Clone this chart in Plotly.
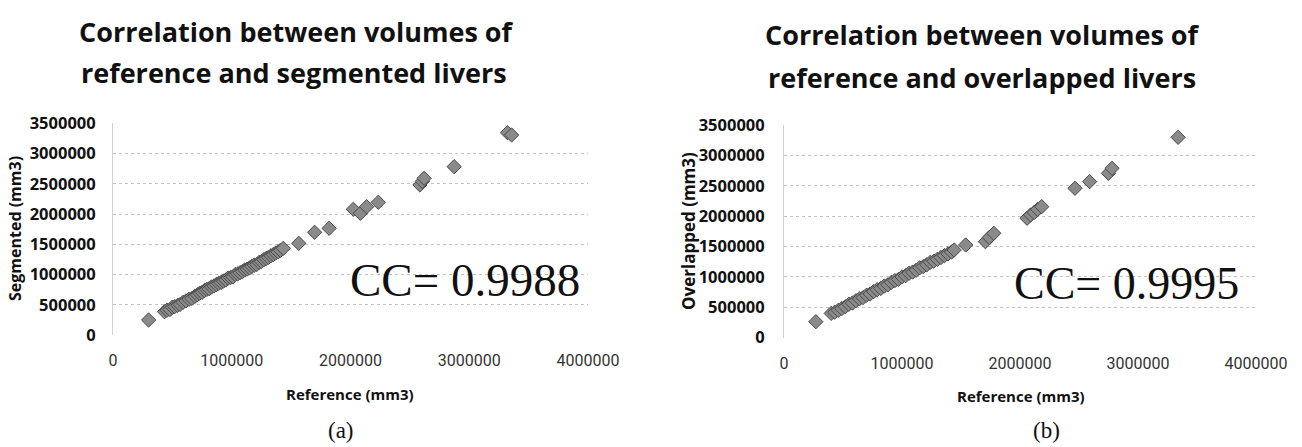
import plotly.graph_objects as go

# ---------------- data (mm3) ----------------
seg_ref = [300000, 434000, 455000, 480000, 500000, 520000, 545000, 565000, 590000, 615000,
           640000, 665000, 690000, 710000, 730000, 750000, 770000, 790000, 810000, 830000,
           850000, 870000, 890000, 910000, 930000, 950000, 970000, 990000, 1010000, 1030000,
           1050000, 1070000, 1090000, 1110000, 1130000, 1150000, 1170000, 1190000, 1210000, 1230000,
           1250000, 1270000, 1290000, 1310000, 1330000, 1350000, 1370000, 1390000, 1410000, 1434000,
           1564000, 1698000, 1820000, 2024000, 2083000, 2136000, 2234000, 2585000, 2605000, 2620000,
           2873000, 3322000, 3357000]
seg_vol = [248000, 385000, 410000, 420000, 460000, 470000, 490000, 505000, 540000, 565000,
           590000, 605000, 640000, 665000, 690000, 705000, 735000, 755000, 765000, 795000,
           810000, 835000, 855000, 870000, 890000, 910000, 940000, 950000, 960000, 1000000,
           1010000, 1030000, 1050000, 1075000, 1090000, 1110000, 1135000, 1155000, 1165000, 1200000,
           1215000, 1245000, 1265000, 1285000, 1310000, 1330000, 1355000, 1375000, 1400000, 1433000,
           1516000, 1698000, 1764000, 2078000, 2012000, 2121000, 2194000, 2480000, 2540000, 2590000,
           2783000, 3345000, 3307000]

ovl_ref = [270000, 400000, 430000, 460000, 490000, 520000, 550000, 580000, 610000, 640000,
           670000, 700000, 730000, 760000, 790000, 820000, 850000, 880000, 910000, 940000,
           970000, 1000000, 1030000, 1060000, 1090000, 1120000, 1150000, 1180000, 1210000, 1240000,
           1270000, 1300000, 1330000, 1360000, 1390000, 1420000, 1442000,
           1540000, 1707000, 1740000, 1778000, 2060000, 2090000, 2120000, 2150000, 2184000,
           2466000, 2590000, 2750000, 2780000, 3340000]
ovl_vol = [263000, 400000, 420000, 450000, 480000, 510000, 550000, 570000, 610000, 640000,
           660000, 700000, 720000, 760000, 790000, 810000, 850000, 870000, 910000, 940000,
           960000, 1000000, 1020000, 1060000, 1080000, 1110000, 1150000, 1170000, 1200000, 1240000,
           1260000, 1290000, 1320000, 1350000, 1380000, 1410000, 1443000,
           1526000, 1580000, 1650000, 1718000, 1965000, 2020000, 2060000, 2110000, 2156000,
           2459000, 2568000, 2706000, 2788000, 3298000]

x_ticks = [0, 1000000, 2000000, 3000000, 4000000]
y_ticks = [0, 500000, 1000000, 1500000, 2000000, 2500000, 3000000, 3500000]

W, H = 1302, 447

fig = go.Figure()
marker = dict(symbol="diamond", size=11, color="#8a8a8a", line=dict(color="#4a4a4a", width=1))
fig.add_trace(go.Scatter(x=seg_ref, y=seg_vol, mode="markers", marker=marker,
                         xaxis="x", yaxis="y", showlegend=False))
fig.add_trace(go.Scatter(x=ovl_ref, y=ovl_vol, mode="markers", marker=marker,
                         xaxis="x2", yaxis="y2", showlegend=False))

def xa(domain, anchor):
    return dict(domain=domain, anchor=anchor, range=[0, 4000000], tickvals=x_ticks,
                ticktext=[str(v) for v in x_ticks], showgrid=False, zeroline=False,
                showline=False, ticks="", ticklabelstandoff=14, automargin=False,
                tickfont=dict(family="Roboto", size=16, color="#333"))

def ya(domain, anchor, standoff):
    return dict(domain=domain, anchor=anchor, range=[0, 3500000], tickvals=y_ticks,
                ticktext=[str(v) for v in y_ticks], showgrid=True, gridcolor="#c2c2c2",
                griddash="dot", gridwidth=1, zeroline=False, showline=True,
                linecolor="#d2d2d2", linewidth=1, ticks="", ticklabelstandoff=standoff,
                automargin=False,
                tickfont=dict(family="Open Sans", size=16.5, color="#111", weight="bold"))

fig.update_layout(
    width=W, height=H, margin=dict(l=0, r=0, t=0, b=0, autoexpand=False),
    paper_bgcolor="white", plot_bgcolor="white",
    xaxis=xa([113 / W, 588 / W], "y"),
    yaxis=ya([1 - 335 / H, 1 - 123.3 / H], "x", 13),
    xaxis2=xa([784 / W, 1256 / W], "y2"),
    yaxis2=ya([1 - 337.7 / H, 1 - 125 / H], "x2", 15),
)

def ann(text, x, y, size, family, color="#111", bold=False, angle=0):
    fig.add_annotation(text=text, x=x / W, y=1 - y / H, xref="paper", yref="paper",
                       showarrow=False, textangle=angle, xanchor="center", yanchor="middle",
                       font=dict(family=family, size=size, color=color,
                                 weight="bold" if bold else "normal"))

title_font = "Open Sans"
ann("Correlation between volumes of", 296, 31, 27, title_font, bold=True)
ann("reference and segmented livers", 294, 72, 27, title_font, bold=True)
ann("Correlation between volumes of", 982, 34, 27, title_font, bold=True)
ann("reference and overlapped livers", 982, 78, 27, title_font, bold=True)

ann("Segmented (mm3)", 15, 229, 16, "Open Sans", bold=True, angle=-90)
ann("Overlapped (mm3)", 688, 231, 17, "Open Sans", bold=True, angle=-90)
ann("Reference (mm3)", 350, 394, 15, "Open Sans", bold=True)
ann("Reference (mm3)", 1021, 396, 15, "Open Sans", bold=True)

ann("CC= 0.9988", 465, 280, 47, "Liberation Serif")
ann("CC= 0.9995", 1126, 283, 46, "Liberation Serif")

ann("(a)", 341, 430, 23, "Liberation Serif")
ann("(b)", 1046, 430, 23, "Liberation Serif")

fig.write_html("out.html", config={"displayModeBar": False},
               post_script="document.body.style.margin='0';")
